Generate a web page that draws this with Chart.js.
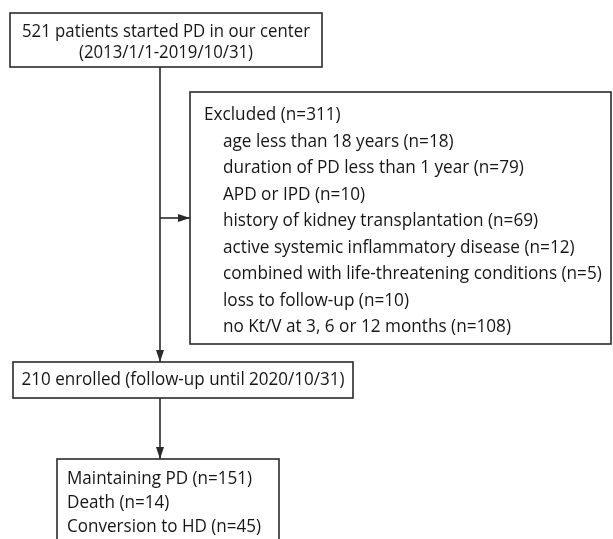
<!DOCTYPE html>
<html>
<head>
<meta charset="utf-8">
<script src="https://cdn.jsdelivr.net/npm/chart.js@4/dist/chart.umd.min.js"></script>
<style>
  html, body { margin: 0; padding: 0; background: #fff; }
  #wrap { width: 613px; height: 539px; position: relative; }
</style>
</head>
<body>
<div id="wrap"><canvas id="c"></canvas></div>
<script>
// ---- data ----
const startLines = ["521 patients started PD in our center", "(2013/1/1-2019/10/31)"];
const excludedTotal = 311;
const exclusionReasons = [
  "age less than 18 years",
  "duration of PD less than 1 year",
  "APD or IPD",
  "history of kidney transplantation",
  "active systemic inflammatory disease",
  "combined with life-threatening conditions",
  "loss to follow-up",
  "no Kt/V at 3, 6 or 12 months"
];
const exclusionCounts = [18, 79, 10, 69, 12, 5, 10, 108];
const enrolledTotal = 210;
const enrolledNote = "follow-up until 2020/10/31";
const outcomeLabels = ["Maintaining PD", "Death", "Conversion to HD"];
const outcomeCounts = [151, 14, 45];

// ---- layout (chart units; y grows downward) ----
const layout = {
  start:    { x0: 10,  x1: 322, y0: 13,  y1: 67,  lineY: [32, 53], fitLine: 0, fitWidth: 288 },
  excluded: { x0: 190, x1: 611, y0: 92,  y1: 344, textX: 204, indentX: 223, firstY: 115.5, step: 26.5, fitLine: 8, fitWidth: 288 },
  enrolled: { x0: 13,  x1: 353, y0: 362, y1: 398, lineY: [380], fitLine: 0, fitWidth: 323 },
  outcome:  { x0: 57,  x1: 279, y0: 459, y1: 548, textX: 67, firstY: 479, step: 24, fitLine: 0, fitWidth: 185 }
};
const trunkX = 160;
const branchY = 218;

// text lines built from data
const excludedLines = ["Excluded (n=" + excludedTotal + ")"].concat(
  exclusionReasons.map((r, i) => r + " (n=" + exclusionCounts[i] + ")"));
const enrolledLines = [enrolledTotal + " enrolled (" + enrolledNote + ")"];
const outcomeLines = outcomeLabels.map((l, i) => l + " (n=" + outcomeCounts[i] + ")");
const boxLines = { start: startLines, excluded: excludedLines, enrolled: enrolledLines, outcome: outcomeLines };

const FONT_FAMILY = "'Open Sans', 'Noto Sans', sans-serif";
const FONT_PX = 17.5;
const FONT = FONT_PX + "px " + FONT_FAMILY;
const mc = document.createElement("canvas").getContext("2d");
mc.font = FONT;
// horizontal condensing factor per box, fitted to the reference line width
const squeeze = {};
Object.keys(layout).forEach(k => {
  const b = layout[k];
  squeeze[k] = b.fitWidth / mc.measureText(boxLines[k][b.fitLine]).width;
});

// connectors as line datasets
const connectors = [
  { from: { x: trunkX, y: layout.start.y1 }, to: { x: trunkX, y: layout.enrolled.y0 } },
  { from: { x: trunkX, y: branchY }, to: { x: layout.excluded.x0, y: branchY } },
  { from: { x: trunkX, y: layout.enrolled.y1 }, to: { x: trunkX, y: layout.outcome.y0 } }
];

const INK = "#2b2b2b";
const TEXT = "#161616";

const flowPlugin = {
  id: "flow",
  afterDatasetsDraw(chart) {
    const ctx = chart.ctx;
    const xs = chart.scales.x, ys = chart.scales.y;
    const px = v => xs.getPixelForValue(v);
    const py = v => ys.getPixelForValue(v);
    ctx.save();
    // boxes
    ctx.strokeStyle = INK;
    ctx.lineWidth = 1.6;
    Object.values(layout).forEach(b => {
      ctx.strokeRect(px(b.x0), py(b.y0), px(b.x1) - px(b.x0), py(b.y1) - py(b.y0));
    });
    // arrowheads
    ctx.fillStyle = INK;
    connectors.forEach(c => {
      const tx = px(c.to.x), ty = py(c.to.y);
      const fx = px(c.from.x), fy = py(c.from.y);
      const ang = Math.atan2(ty - fy, tx - fx);
      const L = 12, W = 4;
      ctx.beginPath();
      ctx.moveTo(tx, ty);
      ctx.lineTo(tx - L * Math.cos(ang) + W * Math.sin(ang), ty - L * Math.sin(ang) - W * Math.cos(ang));
      ctx.lineTo(tx - L * Math.cos(ang) - W * Math.sin(ang), ty - L * Math.sin(ang) + W * Math.cos(ang));
      ctx.closePath();
      ctx.fill();
    });
    // text
    ctx.fillStyle = TEXT;
    ctx.font = FONT;
    ctx.textBaseline = "middle";
    const put = (t, x, y, sx, align) => {
      ctx.save();
      ctx.translate(x, y);
      ctx.scale(sx, 1);
      ctx.textAlign = align;
      ctx.fillText(t, 0, 0);
      ctx.restore();
    };
    ["start", "enrolled"].forEach(k => {
      const b = layout[k];
      boxLines[k].forEach((t, i) => put(t, (px(b.x0) + px(b.x1)) / 2, py(b.lineY[i]), squeeze[k], "center"));
    });
    const ex = layout.excluded;
    excludedLines.forEach((t, i) => {
      put(t, px(i === 0 ? ex.textX : ex.indentX), py(ex.firstY + i * ex.step), squeeze.excluded, "left");
    });
    const oc = layout.outcome;
    outcomeLines.forEach((t, i) => put(t, px(oc.textX), py(oc.firstY + i * oc.step), squeeze.outcome, "left"));
    ctx.restore();
  }
};

new Chart(document.getElementById("c"), {
  type: "scatter",
  data: {
    datasets: connectors.map(c => ({
      data: [c.from, c.to],
      showLine: true,
      borderColor: INK,
      borderWidth: 1.6,
      pointRadius: 0,
      pointHoverRadius: 0,
      fill: false
    }))
  },
  options: {
    responsive: true,
    maintainAspectRatio: false,
    animation: false,
    events: [],
    layout: { padding: 0 },
    plugins: { legend: { display: false }, tooltip: { enabled: false } },
    scales: {
      x: { type: "linear", min: 0, max: 613, display: false },
      y: { type: "linear", min: 0, max: 539, reverse: true, display: false }
    }
  },
  plugins: [flowPlugin]
});
</script>
</body>
</html>
